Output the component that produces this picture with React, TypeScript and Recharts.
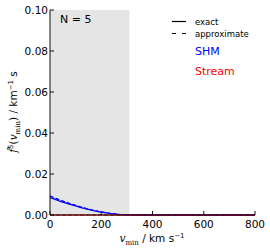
import React from "react";
import { ComposedChart, Line, XAxis, YAxis, ReferenceArea } from "recharts";

// f-hat^5(v_min) for N = 5, SHM and stream halo models
const velocities = [0, 25, 50, 75, 100, 125, 150, 175, 200, 225, 250, 275, 300, 350, 400, 500, 600, 700, 800];
const shmExact = [0.0085, 0.0074, 0.0063, 0.0053, 0.0044, 0.0035, 0.0027, 0.002, 0.0014, 0.0009, 0.0005, 0.0002, 0.0001, 0, 0, 0, 0, 0, 0];
const shmApprox = [0.0093, 0.008, 0.0068, 0.0057, 0.0047, 0.0037, 0.0029, 0.0021, 0.0015, 0.001, 0.0005, 0.0002, 0.0001, 0, 0, 0, 0, 0, 0];
const streamExact = [0, 0, 0, 0, 0, 0, 0, 0, 0, 0, 0, 0, 0, 0, 0, 0, 0, 0, 0];
const streamApprox = [0, 0, 0, 0, 0, 0, 0, 0, 0, 0, 0, 0, 0, 0, 0, 0, 0, 0, 0];
const xTicks = [0, 200, 400, 600, 800];
const yTicks = [0, 0.02, 0.04, 0.06, 0.08, 0.1];
const shadedUpTo = 310;

const data = velocities.map((v, i) => ({
  v,
  shmExact: shmExact[i],
  shmApprox: shmApprox[i],
  streamExact: streamExact[i],
  streamApprox: streamApprox[i],
}));

const tickFont = { fontFamily: "DejaVu Sans", fontSize: 10.5, fill: "#000" };
const hidden = { fill: "transparent", fontSize: 1 };
const serif = "DejaVu Serif";

export default function App() {
  return (
    <div style={{ position: "absolute", left: 0, top: 0, width: 270, height: 250, background: "#fff" }}>
      <ComposedChart width={270} height={250} data={data} margin={{ top: 10, right: 15, bottom: 0, left: 0 }}>
        <XAxis
          dataKey="v"
          type="number"
          domain={[0, 800]}
          ticks={xTicks}
          tick={tickFont}
          tickSize={-4}
          tickMargin={10}
          height={35}
          axisLine={{ stroke: "#111" }}
          tickLine={{ stroke: "#111" }}
        />
        <XAxis
          xAxisId="top"
          dataKey="v"
          type="number"
          orientation="top"
          domain={[0, 800]}
          ticks={xTicks}
          tick={hidden}
          tickSize={-4}
          height={0}
          axisLine={{ stroke: "#333" }}
          tickLine={{ stroke: "#333" }}
        />
        <YAxis
          type="number"
          domain={[0, 0.1]}
          ticks={yTicks}
          tickFormatter={(t: number) => t.toFixed(2)}
          tick={tickFont}
          tickSize={-4}
          tickMargin={6}
          width={50}
          axisLine={{ stroke: "#111" }}
          tickLine={{ stroke: "#111" }}
        />
        <YAxis
          yAxisId="right"
          orientation="right"
          type="number"
          domain={[0, 0.1]}
          ticks={yTicks}
          tick={hidden}
          tickSize={-4}
          width={0}
          axisLine={{ stroke: "#888" }}
          tickLine={{ stroke: "#888" }}
        />
        <ReferenceArea x1={0} x2={shadedUpTo} y1={0} y2={0.1} fill="#e5e5e5" fillOpacity={1} stroke="none" />
        <Line dataKey="shmExact" stroke="#0000ff" strokeWidth={1.3} dot={false} isAnimationActive={false} type="monotone" />
        <Line dataKey="shmApprox" stroke="#0000ff" strokeWidth={1.3} strokeDasharray="4 2" dot={false} isAnimationActive={false} type="monotone" />
        <Line dataKey="streamExact" stroke="#cc0000" strokeWidth={1} dot={false} isAnimationActive={false} />
        <Line dataKey="streamApprox" stroke="#cc0000" strokeWidth={1} strokeDasharray="4 2" dot={false} isAnimationActive={false} />
      </ComposedChart>
      <svg width={270} height={250} style={{ position: "absolute", left: 0, top: 0, pointerEvents: "none" }}>
        <text x={60} y={23} fontFamily="DejaVu Sans" fontSize={11}>N = 5</text>
        <line x1={172} x2={186} y1={21.5} y2={21.5} stroke="#000" strokeWidth={1.2} />
        <line x1={172} x2={186} y1={33.5} y2={33.5} stroke="#000" strokeWidth={1.2} strokeDasharray="4 6" />
        <text x={195} y={24.5} fontFamily="DejaVu Sans" fontSize={8.5}>exact</text>
        <text x={195} y={36.5} fontFamily="DejaVu Sans" fontSize={8.5}>approximate</text>
        <text x={195} y={55} fontFamily="DejaVu Sans" fontSize={11} fill="#0000ff">SHM</text>
        <text x={195} y={75} fontFamily="DejaVu Sans" fontSize={11} fill="#ff0000">Stream</text>
        <text x={152} y={242} textAnchor="middle" fontFamily="DejaVu Sans" fontSize={10.5}>
          <tspan fontFamily={serif} fontStyle="italic">v</tspan>
          <tspan fontFamily={serif} fontSize={7} dy={3}>min</tspan>
          <tspan dy={-3}> / km s</tspan>
          <tspan fontSize={7} dy={-4}>−1</tspan>
        </text>
        <text
          transform="translate(17,112) rotate(-90)"
          textAnchor="middle"
          fontFamily="DejaVu Sans"
          fontSize={10.5}
        >
          <tspan fontFamily={serif} fontStyle="italic">{"f\u0302"}</tspan>
          <tspan fontSize={7} dy={-4}>5</tspan>
          <tspan fontFamily={serif} dy={4}>(</tspan>
          <tspan fontFamily={serif} fontStyle="italic">v</tspan>
          <tspan fontFamily={serif} fontSize={7} dy={3}>min</tspan>
          <tspan fontFamily={serif} dy={-3}>)</tspan>
          <tspan> / km</tspan>
          <tspan fontSize={7} dy={-4}>−1</tspan>
          <tspan dy={4}> s</tspan>
        </text>
      </svg>
    </div>
  );
}
